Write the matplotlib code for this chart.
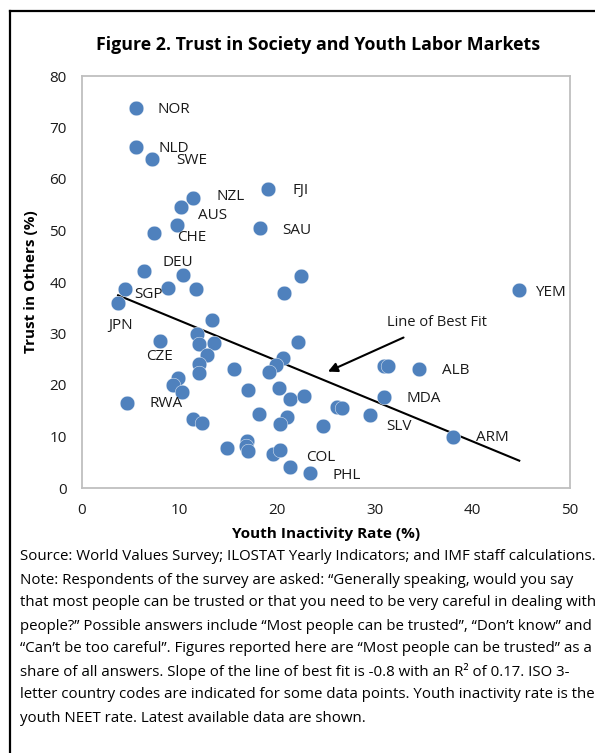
import numpy as np
import matplotlib
matplotlib.use("Agg")
import matplotlib.pyplot as plt
from matplotlib.lines import Line2D

plt.rcParams["font.family"] = ["Open Sans", "DejaVu Sans"]

# =========================================================
# Data
# =========================================================
INACTIVITY = [
    5.5, 5.5, 7.2, 11.4, 10.1, 9.7, 7.4, 19.1, 18.2, 6.4,
    10.3, 22.4, 4.4, 3.7, 8.8, 11.7, 20.7, 44.8, 13.3, 11.8,
    8.0, 12.0, 13.5, 22.1, 12.8, 12.0, 12.0, 20.6, 15.6, 19.9,
    19.2, 9.8, 9.3, 10.2, 4.6, 17.0, 20.2, 21.3, 22.7, 18.1,
    21.0, 20.3, 11.4, 12.3, 24.7, 14.9, 16.9, 16.8, 17.0, 19.6,
    20.3, 21.3, 23.4, 30.9, 31.4, 34.5, 30.9, 26.1, 26.6, 29.5,
    38.0,
]
TRUST = [
    73.8, 66.2, 63.9, 56.3, 54.6, 51.1, 49.5, 58.1, 50.5, 42.1,
    41.3, 41.2, 38.6, 36.0, 38.9, 38.6, 37.8, 38.4, 32.7, 30.0,
    28.5, 28.0, 28.2, 28.4, 25.8, 24.1, 22.3, 25.3, 23.1, 23.9,
    22.6, 21.4, 20.0, 18.6, 16.6, 19.0, 19.5, 17.3, 17.9, 14.4,
    13.8, 12.4, 13.4, 12.6, 12.0, 7.8, 9.2, 8.2, 7.1, 6.6,
    7.3, 4.1, 2.9, 23.6, 23.6, 23.2, 17.7, 15.8, 15.5, 14.2,
    10.0,
]
CODES = [
    "NOR", "NLD", "SWE", "NZL", "AUS", "", "CHE", "FJI", "SAU", "DEU",
    "", "", "SGP", "JPN", "", "", "", "YEM", "", "",
    "CZE", "", "", "", "", "", "", "", "", "",
    "", "", "", "", "RWA", "", "", "", "", "",
    "", "", "", "", "", "", "", "", "", "",
    "", "COL", "PHL", "", "", "ALB", "MDA", "", "", "SLV",
    "ARM",
]

# label offsets in points (styling only)
LABEL_OFFSET = {
    "NOR": (16, -1), "NLD": (16.5, -1), "SWE": (17, -1), "NZL": (16.5, 1),
    "AUS": (12.5, -6), "CHE": (16.5, -3), "FJI": (17, -1.5), "SAU": (16.5, -2),
    "DEU": (13, 6.5), "SGP": (7, -3.5), "JPN": (-7, -16.5), "CZE": (-10, -11),
    "RWA": (16.5, -1), "YEM": (11, -1.5), "ALB": (16.5, -1.5), "MDA": (16.5, -1.5),
    "SLV": (12, -8.5), "ARM": (16.5, -1), "COL": (12, 6.5), "PHL": (16, -2),
}

NOTE_LINES = [
    "Source: World Values Survey; ILOSTAT Yearly Indicators; and IMF staff calculations.",
    "Note: Respondents of the survey are asked: \u201cGenerally speaking, would you say",
    "that most people can be trusted or that you need to be very careful in dealing with",
    "people?\u201d Possible answers include \u201cMost people can be trusted\u201d, \u201cDon\u2019t know\u201d and",
    "\u201cCan\u2019t be too careful\u201d. Figures reported here are \u201cMost people can be trusted\u201d as a",
    "share of all answers. Slope of the line of best fit is -0.8 with an R\u00b2 of 0.17. ISO 3-",
    "letter country codes are indicated for some data points. Youth inactivity rate is the",
    "youth NEET rate. Latest available data are shown.",
]

BLUE = "#4F81BD"

fig = plt.figure(figsize=(5.95, 7.53), dpi=100)
ax = fig.add_axes([82 / 595, 1 - 488 / 753, (570 - 82) / 595, (488 - 76) / 753])

x = np.array(INACTIVITY)
y = np.array(TRUST)

ax.scatter(x, y, s=112, color=BLUE, edgecolors="white", linewidths=0.3, zorder=3)

# line of best fit
slope, intercept = np.polyfit(x, y, 1)
xf = np.array([x.min(), x.max()])
ax.plot(xf, intercept + slope * xf, color="black", lw=1.5, zorder=2)

for xi, yi, code in zip(x, y, CODES):
    if not code:
        continue
    ax.annotate(code, (xi, yi), xytext=LABEL_OFFSET[code], textcoords="offset points",
                ha="left", va="center", fontsize=11, color="#1a1a1a", zorder=4)

ax.annotate("Line of Best Fit", xy=(25.2, 22.6), xytext=(31.2, 32.1),
            ha="left", va="center", fontsize=10.5, color="#1a1a1a",
            arrowprops=dict(arrowstyle="-|>", color="black", lw=1.5,
                            mutation_scale=14, shrinkA=8, shrinkB=0))

ax.set_xlim(0, 50)
ax.set_ylim(0, 80)
ax.set_xticks(range(0, 51, 10))
ax.set_yticks(range(0, 81, 10))
ax.tick_params(length=0, labelsize=11, pad=11, colors="#1a1a1a")
for sp in ax.spines.values():
    sp.set_color("#BFBFBF")
    sp.set_linewidth(1.3)

ax.set_xlabel("Youth Inactivity Rate (%)", fontsize=11, fontweight="bold", labelpad=6)
ax.set_ylabel("Trust in Others (%)", fontsize=11, fontweight="bold", labelpad=8)

fig.text(0.535, 1 - 45 / 753, "Figure 2. Trust in Society and Youth Labor Markets",
         ha="center", va="center", fontsize=12.8, fontweight="bold")

for i, line in enumerate(NOTE_LINES):
    fig.text(20 / 595, 1 - (557 + 23 * i) / 753, line, ha="left", va="center", fontsize=10.85)

# black frame on the left and top
fig.add_artist(Line2D([10 / 595, 10 / 595], [0, 1 - 11 / 753], color="black", lw=1.6,
                      transform=fig.transFigure))
fig.add_artist(Line2D([10 / 595, 1], [1 - 11 / 753, 1 - 11 / 753], color="black", lw=1.6,
                      transform=fig.transFigure))

fig.savefig("out.png", dpi=100)
